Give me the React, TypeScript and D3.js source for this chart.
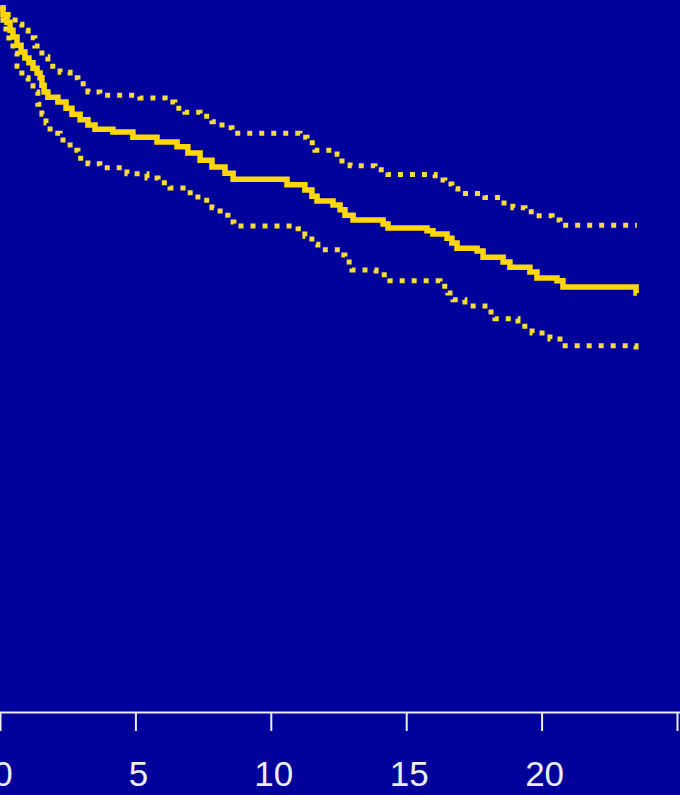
import React from "react";
import * as d3 from "d3";

const estTimes = [0, 0.09, 0.24, 0.35, 0.46, 0.61, 0.76, 0.90, 1.05, 1.20, 1.35, 1.46, 1.53, 1.61, 1.75, 2.12, 2.42, 2.64, 2.94, 3.23, 3.49, 4.15, 4.89, 5.78, 6.52, 6.92, 7.37, 7.81, 8.29, 8.59, 10.58, 11.24, 11.50, 11.69, 12.28, 12.54, 12.72, 13.02, 14.13, 14.31, 15.75, 15.97, 16.49, 16.67, 16.86, 17.60, 17.82, 18.56, 18.81, 19.55, 19.81, 20.55, 20.77, 23.47];
const estSurv = [1.000, 0.990, 0.979, 0.967, 0.957, 0.945, 0.935, 0.926, 0.919, 0.911, 0.904, 0.897, 0.886, 0.876, 0.868, 0.861, 0.852, 0.843, 0.835, 0.827, 0.821, 0.817, 0.809, 0.802, 0.795, 0.786, 0.775, 0.765, 0.756, 0.747, 0.739, 0.731, 0.722, 0.715, 0.709, 0.702, 0.694, 0.687, 0.681, 0.675, 0.671, 0.666, 0.660, 0.653, 0.645, 0.641, 0.632, 0.625, 0.617, 0.610, 0.601, 0.597, 0.588, 0.579];

const upperTimes = [0, 0.28, 0.54, 0.79, 1.02, 1.27, 1.53, 1.75, 2.20, 2.57, 2.86, 3.23, 3.67, 5.15, 6.08, 6.44, 6.81, 7.37, 7.81, 8.18, 8.55, 11.06, 11.32, 11.61, 12.43, 12.61, 12.91, 13.83, 14.31, 16.05, 16.41, 16.67, 16.89, 17.89, 18.45, 18.92, 19.37, 19.74, 20.37, 20.66];
const upperSurv = [1.0, 0.990, 0.976, 0.967, 0.956, 0.944, 0.928, 0.914, 0.905, 0.897, 0.888, 0.876, 0.871, 0.867, 0.861, 0.852, 0.846, 0.840, 0.832, 0.823, 0.815, 0.809, 0.801, 0.790, 0.784, 0.774, 0.767, 0.761, 0.754, 0.746, 0.740, 0.733, 0.726, 0.720, 0.712, 0.705, 0.699, 0.693, 0.687, 0.679];

const lowerTimes = [0, 0.09, 0.20, 0.31, 0.46, 0.61, 0.79, 1.02, 1.20, 1.38, 1.53, 1.68, 1.83, 2.20, 2.57, 2.86, 3.23, 3.67, 4.67, 5.41, 5.82, 6.26, 6.74, 7.29, 7.81, 8.11, 8.40, 8.62, 10.99, 11.24, 11.50, 11.72, 12.54, 12.72, 12.98, 13.87, 14.38, 16.23, 16.52, 16.71, 17.15, 17.89, 18.26, 19.11, 19.63, 20.29, 20.66, 23.47];
const lowerSurv = [1.0, 0.982, 0.965, 0.950, 0.933, 0.914, 0.897, 0.885, 0.876, 0.858, 0.843, 0.830, 0.815, 0.805, 0.790, 0.778, 0.770, 0.764, 0.755, 0.749, 0.742, 0.734, 0.727, 0.716, 0.705, 0.694, 0.684, 0.678, 0.674, 0.663, 0.651, 0.643, 0.635, 0.625, 0.613, 0.606, 0.597, 0.589, 0.579, 0.569, 0.560, 0.551, 0.541, 0.530, 0.520, 0.511, 0.501, 0.492];

const endTime = 23.5;
const tickValues = [0, 5, 10, 15, 20, 25];
const tickLabels = ["0", "5", "10", "15", "20", ""];

const W = 680;
const H = 795;
const BG = "#00009a";
const YELLOW = "#ffd70a";
const DOT = "#f5dc3c";
const AXIS = "#ececf4";

export default function App() {
  const x = d3.scaleLinear().domain([0, 25]).range([0.5, 677.5]);
  const y = d3.scaleLinear().domain([0, 1]).range([685, 8]);
  const line = d3
    .line<[number, number]>()
    .x((d) => x(d[0]))
    .y((d) => y(d[1]))
    .curve(d3.curveStepAfter);

  const build = (t: number[], s: number[]): [number, number][] => {
    const pts: [number, number][] = t.map((v, i) => [v, s[i]]);
    pts.push([endTime, s[s.length - 1]]);
    return pts;
  };

  const axisY = 712.5;

  return (
    <svg
      width={W}
      height={H}
      style={{ position: "absolute", left: 0, top: 0, display: "block" }}
    >
      <rect x={0} y={0} width={W} height={H} fill={BG} />
      <path
        d={line(build(upperTimes, upperSurv)) || ""}
        fill="none"
        stroke={DOT}
        strokeWidth={5}
        strokeDasharray="5 7"
      />
      <path
        d={line(build(lowerTimes, lowerSurv)) || ""}
        fill="none"
        stroke={DOT}
        strokeWidth={5}
        strokeDasharray="5 7"
      />
      <path
        d={line(build(estTimes, estSurv)) || ""}
        fill="none"
        stroke={YELLOW}
        strokeWidth={5.5}
        strokeLinejoin="miter"
      />
      <line x1={0} x2={W} y1={axisY} y2={axisY} stroke={AXIS} strokeWidth={2} />
      {tickValues.map((v, i) => (
        <g key={v} transform={`translate(${x(v)},0)`}>
          <line y1={axisY} y2={731} stroke={AXIS} strokeWidth={2} />
          {tickLabels[i] && (
            <text
              x={2.5}
              y={786}
              textAnchor="middle"
              fill={AXIS}
              fontFamily="Liberation Sans, Arial, sans-serif"
              fontSize={35}
            >
              {tickLabels[i]}
            </text>
          )}
        </g>
      ))}
    </svg>
  );
}
